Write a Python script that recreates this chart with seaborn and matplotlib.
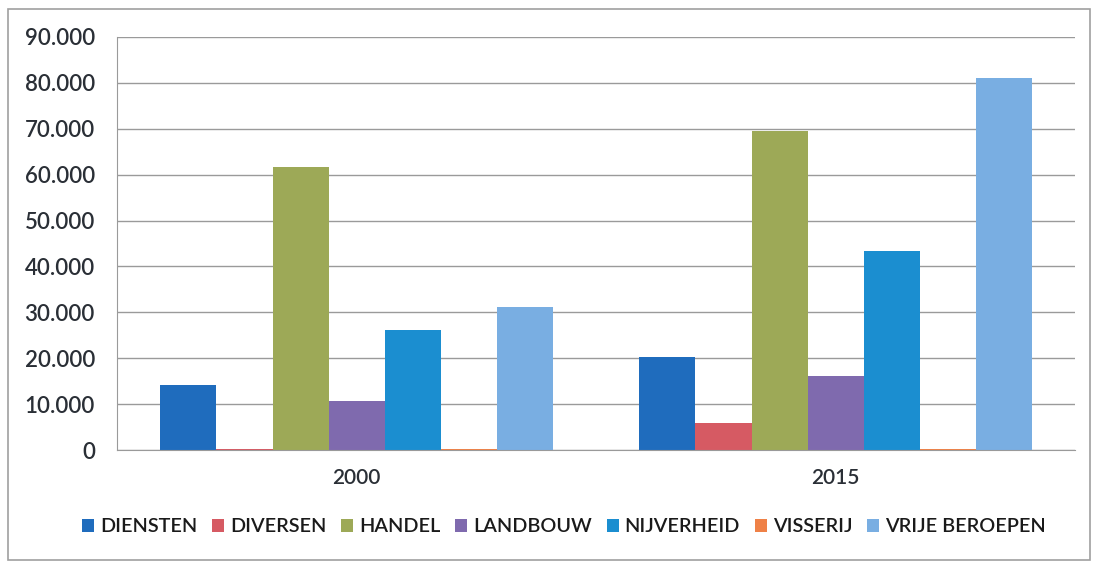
import numpy as np
import pandas as pd
import matplotlib
matplotlib.use("Agg")
import matplotlib.pyplot as plt
import seaborn as sns
from matplotlib.ticker import FuncFormatter, MultipleLocator
from matplotlib.patches import Rectangle

# data
years = ["2000", "2015"]
sectors = ["DIENSTEN", "DIVERSEN", "HANDEL", "LANDBOUW", "NIJVERHEID", "VISSERIJ", "VRIJE BEROEPEN"]
values_2000 = [14200, 300, 61600, 10600, 26100, 300, 31100]
values_2015 = [20300, 6000, 69600, 16100, 43400, 300, 81100]
colors = ["#1f6cbd", "#d65a63", "#9da957", "#7f6aae", "#1b8ed0", "#ef8147", "#79aee2"]


def dutch_thousands(v, pos):
    return f"{int(v):,}".replace(",", ".")


if __name__ == '__main__':
    df = pd.DataFrame({
        "jaar": np.repeat(years, len(sectors)),
        "sector": sectors * len(years),
        "waarde": values_2000 + values_2015,
    })

    sns.set_style("white")
    plt.rcParams['font.family'] = ['Lato', 'DejaVu Sans']

    fig = plt.figure(figsize=(10.95, 5.69), dpi=100)
    ax = fig.add_axes([0.107, 0.209, 0.875, 0.726])

    sns.barplot(data=df, x="jaar", y="waarde", hue="sector", hue_order=sectors,
                palette=colors, width=0.82, gap=0, saturation=1, ax=ax,
                edgecolor="none", errorbar=None)

    ax.set_ylim(0, 90000)
    ax.set_xlim(-0.5, 1.5)
    ax.yaxis.set_major_locator(MultipleLocator(10000))
    ax.yaxis.set_major_formatter(FuncFormatter(dutch_thousands))
    ax.grid(axis="y", color="#9a9a9a", linewidth=1.0)
    ax.set_axisbelow(True)
    ax.set_xlabel("")
    ax.set_ylabel("")

    for side in ["top", "right"]:
        ax.spines[side].set_visible(False)
    ax.spines["left"].set_color("#9a9a9a")
    ax.spines["bottom"].set_color("#9a9a9a")
    ax.tick_params(axis="y", length=6, color="#9a9a9a", labelsize=16, labelcolor="#2a2f36", pad=10)
    ax.tick_params(axis="x", length=0, labelsize=15, labelcolor="#2a2f36", pad=13)
    for lbl in ax.get_yticklabels() + ax.get_xticklabels():
        lbl.set_fontweight("semibold")
    # category separators on the x axis
    ax.set_xticks([-0.5, 0.5, 1.5], minor=True)
    ax.tick_params(axis="x", which="minor", length=6, color="#9a9a9a")

    leg = ax.legend(loc="center", bbox_to_anchor=(0.515, 0.074), bbox_transform=fig.transFigure,
                    ncol=7, frameon=False, fontsize=14.3, handlelength=0.6, handleheight=0.6,
                    handletextpad=0.3, columnspacing=0.75, labelcolor="#1a1a1a")
    for t in leg.get_texts():
        t.set_fontweight("semibold")

    fig.patches.append(Rectangle((0.007, 0.015), 0.988, 0.97, transform=fig.transFigure,
                                 fill=False, edgecolor="#a0a0a0", linewidth=1.2))

    fig.savefig("out.png", dpi=100)
